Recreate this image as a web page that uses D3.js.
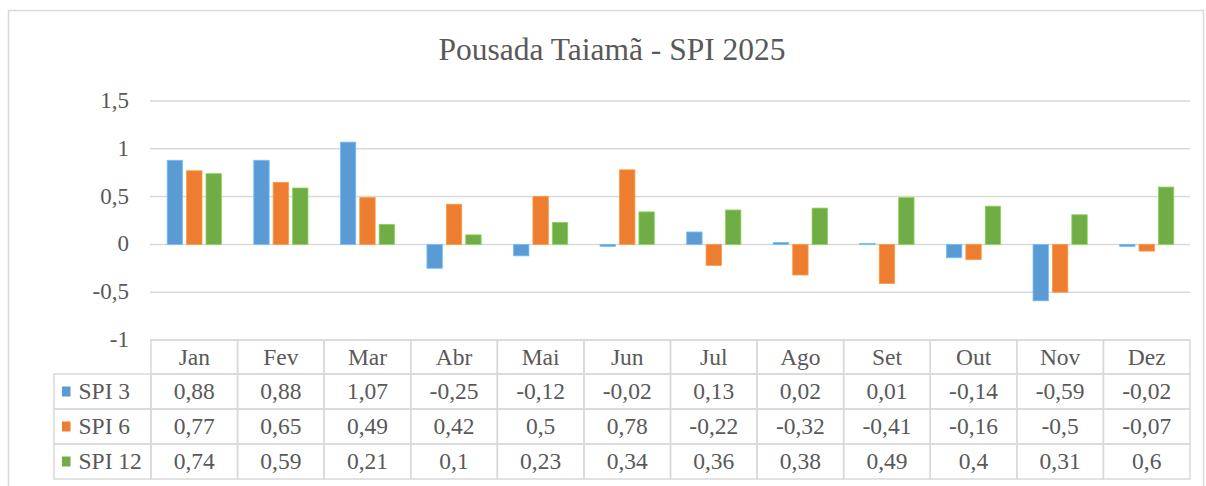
<!DOCTYPE html>
<html>
<head>
<meta charset="utf-8">
<script src="https://cdn.jsdelivr.net/npm/d3@7"></script>
<style>
  html, body { margin: 0; padding: 0; background: #fff; }
  svg { display: block; }
</style>
</head>
<body>
<svg id="chart" width="1206" height="486"></svg>
<script>
// Monthly SPI values for Pousada Taiamã, 2025
const months = ["Jan", "Fev", "Mar", "Abr", "Mai", "Jun", "Jul", "Ago", "Set", "Out", "Nov", "Dez"];
const seriesNames = ["SPI 3", "SPI 6", "SPI 12"];
const spi3 = [0.88, 0.88, 1.07, -0.25, -0.12, -0.02, 0.13, 0.02, 0.01, -0.14, -0.59, -0.02];
const spi6 = [0.77, 0.65, 0.49, 0.42, 0.5, 0.78, -0.22, -0.32, -0.41, -0.16, -0.5, -0.07];
const spi12 = [0.74, 0.59, 0.21, 0.1, 0.23, 0.34, 0.36, 0.38, 0.49, 0.4, 0.31, 0.6];
const yTicks = [-1, -0.5, 0, 0.5, 1, 1.5];
const colors = ["#5B9BD5", "#ED7D31", "#70AD47"];

const series = [spi3, spi6, spi12];
const fmt = v => String(v).replace(".", ",");

const svg = d3.select("#chart");
const font = "'Liberation Serif', 'Times New Roman', serif";
const textColor = "#595959";
const gridColor = "#d9d9d9";

// chart frame
svg.append("rect")
  .attr("x", 8.5).attr("y", 10.5)
  .attr("width", 1195).attr("height", 490)
  .attr("fill", "#fff")
  .attr("stroke", gridColor).attr("stroke-width", 1.5);

// title
svg.append("text")
  .attr("x", 612).attr("y", 60)
  .attr("text-anchor", "middle")
  .attr("font-family", font)
  .attr("font-size", 31.5)
  .attr("fill", textColor)
  .text("Pousada Taiamã - SPI 2025");

const plotLeft = 151, plotRight = 1190;
const x = d3.scaleBand().domain(months).range([plotLeft, plotRight]).padding(0);
const y = d3.scaleLinear().domain([-1, 1.5]).range([340, 101]);

// gridlines
svg.append("g").selectAll("line")
  .data(yTicks)
  .join("line")
  .attr("x1", plotLeft - 1).attr("x2", plotRight)
  .attr("y1", d => y(d)).attr("y2", d => y(d))
  .attr("stroke", gridColor).attr("stroke-width", 1.5);

// y tick labels
svg.append("g").selectAll("text")
  .data(yTicks)
  .join("text")
  .attr("x", 129)
  .attr("y", d => y(d) + 7)
  .attr("text-anchor", "end")
  .attr("font-family", font)
  .attr("font-size", 23)
  .attr("fill", textColor)
  .text(d => fmt(d));

// bars
const step = 19.4, barW = 15.4;
const bars = svg.append("g");
series.forEach((vals, si) => {
  bars.append("g").selectAll("rect")
    .data(vals.map((v, i) => ({ m: months[i], v })))
    .join("rect")
    .attr("x", d => x(d.m) + x.bandwidth() / 2 + (si - 1) * step - barW / 2)
    .attr("width", barW)
    .attr("y", d => Math.min(y(d.v), y(0)))
    .attr("height", d => Math.abs(y(d.v) - y(0)))
    .attr("fill", colors[si])
    .attr("stroke", d3.color(colors[si]).brighter(0.6))
    .attr("stroke-width", 0.8);
});

// data table
const rowTops = [340, 374, 409, 444, 479];
const legendLeft = 54;
const tableFont = 23.5;
const table = svg.append("g");

// header row
months.forEach(m => {
  table.append("rect")
    .attr("x", x(m)).attr("y", rowTops[0])
    .attr("width", x.bandwidth()).attr("height", rowTops[1] - rowTops[0])
    .attr("fill", "none").attr("stroke", gridColor).attr("stroke-width", 1.5);
  table.append("text")
    .attr("x", x(m) + x.bandwidth() / 2)
    .attr("y", rowTops[0] + 25)
    .attr("text-anchor", "middle")
    .attr("font-family", font).attr("font-size", tableFont).attr("fill", textColor)
    .text(m);
});

series.forEach((vals, si) => {
  const top = rowTops[si + 1], h = rowTops[si + 2] - top;
  // legend cell
  table.append("rect")
    .attr("x", legendLeft).attr("y", top)
    .attr("width", plotLeft - legendLeft).attr("height", h)
    .attr("fill", "none").attr("stroke", gridColor).attr("stroke-width", 1.5);
  table.append("rect")
    .attr("x", 62).attr("y", top + 12.5)
    .attr("width", 8.5).attr("height", 10)
    .attr("fill", colors[si]);
  table.append("text")
    .attr("x", 78.5).attr("y", top + 25)
    .attr("font-family", font).attr("font-size", tableFont).attr("fill", textColor)
    .text(seriesNames[si]);
  // value cells
  vals.forEach((v, i) => {
    table.append("rect")
      .attr("x", x(months[i])).attr("y", top)
      .attr("width", x.bandwidth()).attr("height", h)
      .attr("fill", "none").attr("stroke", gridColor).attr("stroke-width", 1.5);
    table.append("text")
      .attr("x", x(months[i]) + x.bandwidth() / 2)
      .attr("y", top + 25)
      .attr("text-anchor", "middle")
      .attr("font-family", font).attr("font-size", tableFont).attr("fill", textColor)
      .text(fmt(v));
  });
});
</script>
</body>
</html>
